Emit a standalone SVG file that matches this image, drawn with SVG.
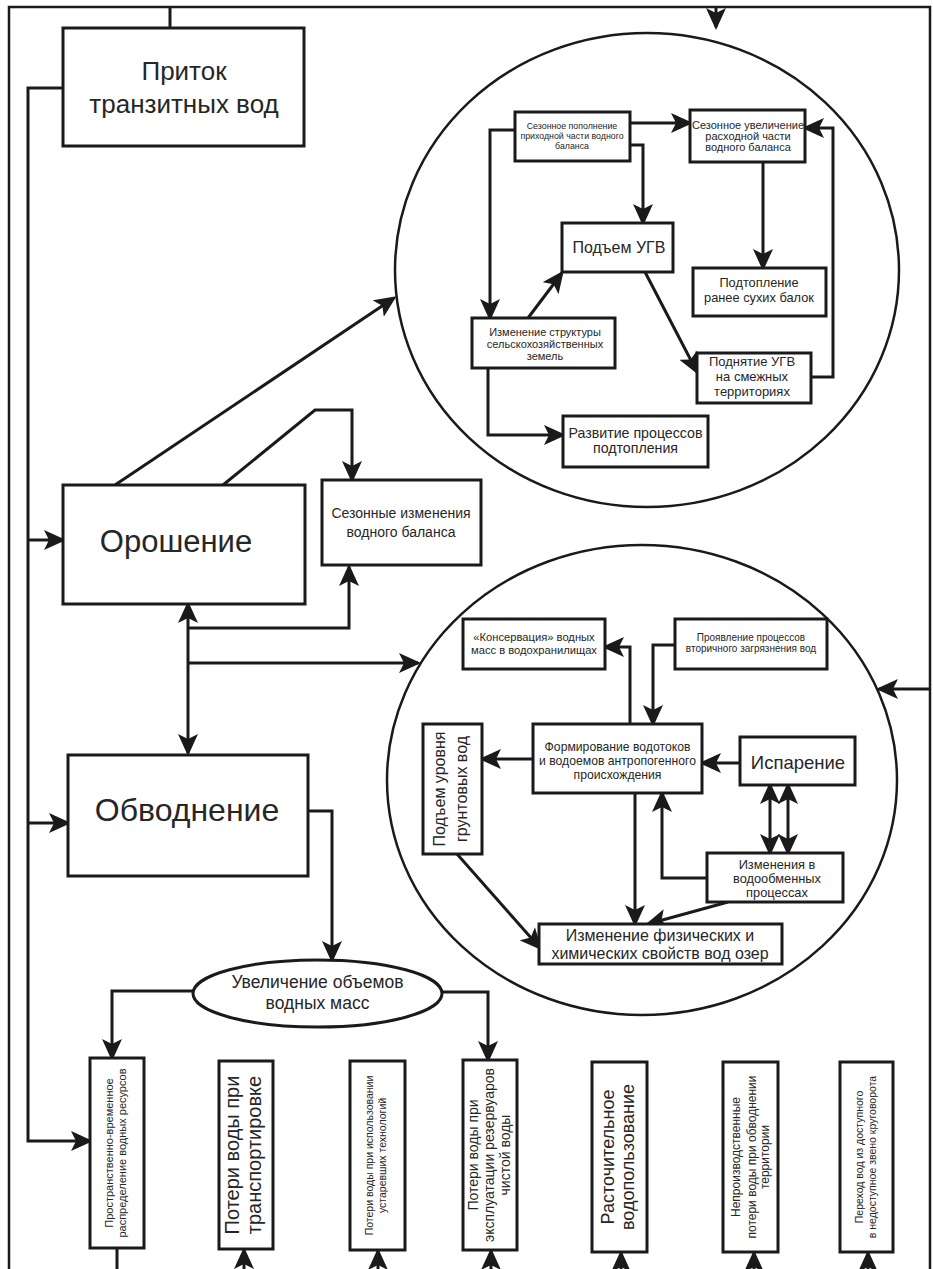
<svg xmlns="http://www.w3.org/2000/svg" width="933" height="1269" viewBox="0 0 933 1269">
<defs>
<marker id="ah" viewBox="0 0 22 20" refX="19" refY="10" markerWidth="22" markerHeight="20" markerUnits="userSpaceOnUse" orient="auto-start-reverse"><path d="M0,0 L22,10 L0,20 L5,10 Z" fill="#1a1a1a"/></marker>
</defs>
<style>
.box{fill:#fff;stroke:#1a1a1a;stroke-width:3}
.ring{fill:none;stroke:#1a1a1a;stroke-width:2.5}
.l{fill:none;stroke:#1a1a1a;stroke-width:3}
.c{fill:none;stroke:#1a1a1a;stroke-width:3;marker-end:url(#ah)}
.bi{marker-start:url(#ah)}
text{font-family:"Liberation Sans",Arial,sans-serif;fill:#262626;text-anchor:middle}
</style>
<rect width="933" height="1269" fill="#fff"/>
<path d="M9,1275 V7 H930 V1275" fill="none" stroke="#1a1a1a" stroke-width="2.5"/>
<g id="circles">
<ellipse class="ring" cx="647" cy="270" rx="252" ry="237"/>
<ellipse class="ring" cx="642" cy="780" rx="255" ry="235"/>
</g>
<g id="connectors">
<path class="l" d="M170,7 V28"/>
<path class="c" d="M716,6 V27"/>
<path class="c" d="M63,88 H28 V1141 H90"/>
<path class="c" d="M28,540 H63"/>
<path class="c" d="M28,823 H68"/>
<path class="c" d="M115,485 L394,298"/>
<path class="c" d="M223,485 L315,410 H352 V480"/>
<path class="c bi" d="M188,604 V753"/>
<path class="c" d="M188,628 H349 V567"/>
<path class="c" d="M188,663 H418"/>
<path class="c" d="M931,689 H879"/>
<path class="c" d="M308,811 H332 V960"/>
<path class="c" d="M193,991 H112 V1058"/>
<path class="c" d="M442,992 H488 V1060"/>
<path class="l" d="M117,1248 V1275"/>
<path class="c" d="M244,1275 V1250"/>
<path class="c" d="M378,1275 V1251"/>
<path class="c" d="M491,1275 V1251"/>
<path class="c" d="M621,1275 V1253"/>
<path class="c" d="M754,1275 V1253"/>
<path class="c" d="M868,1275 V1253"/>
<path class="c" d="M630,123 H690"/>
<path class="c" d="M630,145 H643 V223"/>
<path class="c" d="M515,130 H490 V318"/>
<path class="c" d="M528,318 L562,273"/>
<path class="c" d="M645,272 L697,372"/>
<path class="c" d="M763,162 V268"/>
<path class="c" d="M811,377 H833 V128 H805"/>
<path class="c" d="M488,368 V435 H563"/>
<path class="c" d="M630,724 V647 H605"/>
<path class="c" d="M675,645 H653 V724"/>
<path class="c" d="M533,759 H482"/>
<path class="c" d="M740,763 H702"/>
<path class="c bi" d="M770,785 V853"/>
<path class="c bi" d="M788,785 V853"/>
<path class="c" d="M707,878 H662 V793"/>
<path class="c" d="M635,793 V924"/>
<path class="c" d="M728,902 L648,924"/>
<path class="c" d="M457,854 L540,948"/>
</g>
<g id="pritok">
<rect class="box" x="63" y="28" width="241" height="118"/>
<text font-size="26"><tspan x="184" y="80">Приток</tspan><tspan x="184" y="113">транзитных вод</tspan></text>
</g>
<g id="oroshenie">
<rect class="box" x="63" y="485" width="242" height="119"/>
<text x="176" y="552" font-size="31">Орошение</text>
</g>
<g id="sezonnye">
<rect class="box" x="322" y="480" width="159" height="85"/>
<text font-size="14"><tspan x="401" y="518">Сезонные изменения</tspan><tspan x="401" y="537">водного баланса</tspan></text>
</g>
<g id="obvodnenie">
<rect class="box" x="68" y="755" width="240" height="121"/>
<text x="187" y="821" font-size="32">Обводнение</text>
</g>
<g id="uvelichenie">
<ellipse class="box" cx="317.5" cy="993.5" rx="124.5" ry="33.5"/>
<text font-size="17.5"><tspan x="317.5" y="988">Увеличение объемов</tspan><tspan x="317.5" y="1009">водных масс</tspan></text>
</g>
<g id="popolnenie">
<rect class="box" x="515" y="112" width="115" height="49"/>
<text font-size="8.8"><tspan x="572" y="128.6">Сезонное пополнение</tspan><tspan x="572" y="138.6">приходной части водного</tspan><tspan x="572" y="148.6">баланса</tspan></text>
</g>
<g id="uvelichenie-rashoda">
<rect class="box" x="690" y="110" width="115" height="52"/>
<text font-size="11"><tspan x="748" y="128.5">Сезонное увеличение</tspan><tspan x="748" y="139.5">расходной части</tspan><tspan x="748" y="150.5">водного баланса</tspan></text>
</g>
<g id="podem-ugv">
<rect class="box" x="562" y="223" width="111" height="49"/>
<text x="619" y="253" font-size="16">Подъем УГВ</text>
</g>
<g id="podtoplenie-balok">
<rect class="box" x="693" y="268" width="133" height="48"/>
<text font-size="12.8"><tspan x="759" y="287">Подтопление</tspan><tspan x="759" y="302">ранее сухих балок</tspan></text>
</g>
<g id="izmenenie-struktury">
<rect class="box" x="472" y="318" width="143" height="50"/>
<text font-size="11"><tspan x="545" y="336.3">Изменение структуры</tspan><tspan x="545" y="348.3">сельскохозяйственных</tspan><tspan x="545" y="360.3">земель</tspan></text>
</g>
<g id="podnyatie-ugv">
<rect class="box" x="697" y="353" width="114" height="50"/>
<text font-size="13"><tspan x="752" y="366">Поднятие УГВ</tspan><tspan x="752" y="381">на смежных</tspan><tspan x="752" y="396">территориях</tspan></text>
</g>
<g id="razvitie">
<rect class="box" x="563" y="416" width="145" height="51"/>
<text font-size="14.2"><tspan x="635.5" y="438">Развитие процессов</tspan><tspan x="635.5" y="453">подтопления</tspan></text>
</g>
<g id="konservaciya">
<rect class="box" x="463" y="619" width="142" height="50"/>
<text font-size="11.2"><tspan x="534" y="640.5">«Консервация» водных</tspan><tspan x="534" y="653.5">масс в водохранилищах</tspan></text>
</g>
<g id="proyavlenie">
<rect class="box" x="675" y="619" width="152" height="50"/>
<text font-size="10"><tspan x="751" y="641">Проявление процессов</tspan><tspan x="751" y="652">вторичного загрязнения вод</tspan></text>
</g>
<g id="formirovanie">
<rect class="box" x="533" y="724" width="169" height="69"/>
<text font-size="12.2"><tspan x="617.5" y="751">Формирование водотоков</tspan><tspan x="617.5" y="765">и водоемов антропогенного</tspan><tspan x="617.5" y="779">происхождения</tspan></text>
</g>
<g id="podem-urovnya">
<rect class="box" x="423" y="724" width="59" height="130"/>
<text font-size="16" transform="translate(452.5,789) rotate(-90)"><tspan x="0" y="-7.7">Подъем уровня</tspan><tspan x="0" y="14.3">грунтовых вод</tspan></text>
</g>
<g id="isparenie">
<rect class="box" x="740" y="737" width="115" height="48"/>
<text x="798" y="768.5" font-size="18.5">Испарение</text>
</g>
<g id="vodoobmen">
<rect class="box" x="707" y="853" width="136" height="49"/>
<text font-size="12.8"><tspan x="777" y="869">Изменения в</tspan><tspan x="777" y="883">водообменных</tspan><tspan x="777" y="897">процессах</tspan></text>
</g>
<g id="fizicheskie">
<rect class="box" x="539" y="924" width="243" height="40"/>
<text font-size="16"><tspan x="660" y="940.5">Изменение физических и</tspan><tspan x="660" y="958.5">химических свойств вод озер</tspan></text>
</g>
<g id="b1">
<rect class="box" x="90" y="1058" width="54" height="190"/>
<text font-size="11" transform="translate(117,1153) rotate(-90)"><tspan x="0" y="-3.7">Пространственно-временное</tspan><tspan x="0" y="9.3">распределение водных ресурсов</tspan></text>
</g>
<g id="b2">
<rect class="box" x="219" y="1061" width="54" height="188"/>
<text font-size="20" transform="translate(246,1155) rotate(-90)"><tspan x="0" y="-7">Потери воды при</tspan><tspan x="0" y="15">транспортировке</tspan></text>
</g>
<g id="b3">
<rect class="box" x="350" y="1061" width="55" height="189"/>
<text font-size="10.5" transform="translate(377.5,1155.5) rotate(-90)"><tspan x="0" y="-4.4">Потери воды при использовании</tspan><tspan x="0" y="8.6">устаревших технологий</tspan></text>
</g>
<g id="b4">
<rect class="box" x="463" y="1060" width="54" height="190"/>
<text font-size="14" transform="translate(490,1155) rotate(-90)"><tspan x="0" y="-11.8">Потери воды при</tspan><tspan x="0" y="4.2">эксплуатации резервуаров</tspan><tspan x="0" y="20.2">чистой воды</tspan></text>
</g>
<g id="b5">
<rect class="box" x="592" y="1062" width="55" height="190"/>
<text font-size="18" transform="translate(619.5,1157) rotate(-90)"><tspan x="0" y="-6">Расточительное</tspan><tspan x="0" y="14">водопользование</tspan></text>
</g>
<g id="b6">
<rect class="box" x="723" y="1062" width="55" height="190"/>
<text font-size="12" transform="translate(750.5,1157) rotate(-90)"><tspan x="0" y="-10.9">Непроизводственные</tspan><tspan x="0" y="5.1">потери воды при обводнении</tspan><tspan x="0" y="18.1">территории</tspan></text>
</g>
<g id="b7">
<rect class="box" x="840" y="1062" width="53" height="190"/>
<text font-size="10.5" transform="translate(866.5,1157) rotate(-90)"><tspan x="0" y="-3.4">Переход вод из доступного</tspan><tspan x="0" y="9.6">в недоступное звено круговорота</tspan></text>
</g>
</svg>
